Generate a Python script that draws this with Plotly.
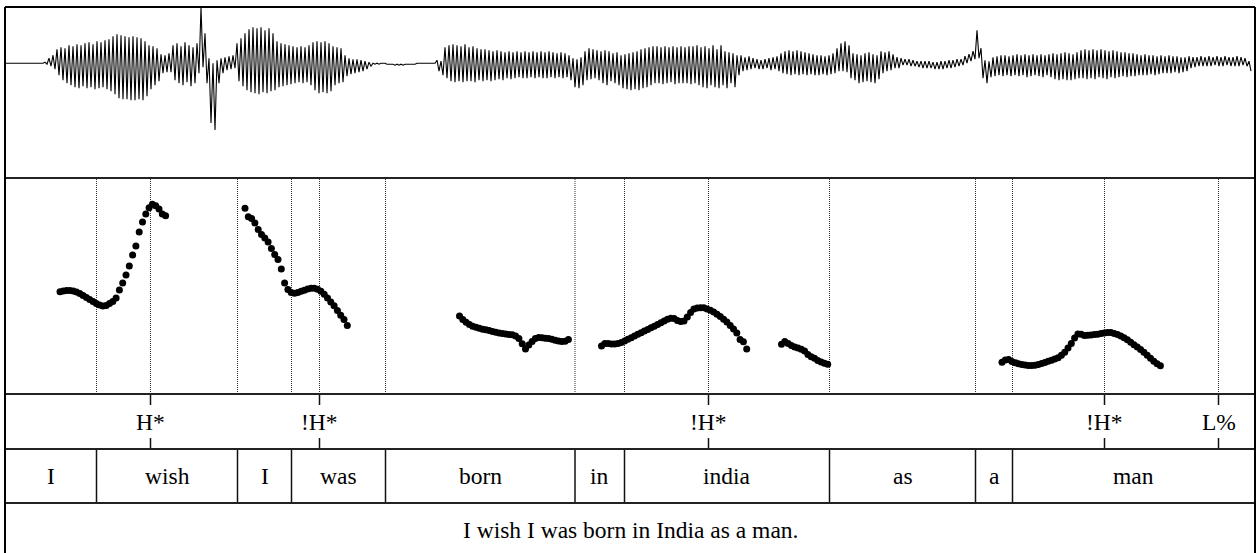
import plotly.graph_objects as go

# ---------------- data ----------------
# Word tier (interval starts in seconds; last interval ends at TOTAL_DUR)
TOTAL_DUR = 2.5
words = ["I", "wish", "I", "was", "born", "in", "india", "as", "a", "man"]
word_starts = [0.0, 0.183, 0.465, 0.573, 0.761, 1.140, 1.239, 1.649, 1.941, 2.015]

# Tone tier (point tier)
tones = ["H*", "!H*", "!H*", "!H*", "L%"]
tone_times = [0.291, 0.629, 1.407, 2.199, 2.427]

sentence = "I wish I was born in India as a man."

# Waveform: per-frame max / min amplitude (frame step 8 ms), arbitrary units
WAVE_FRAME = 0.008
wave_hi = [
    0, 0, 0, 0, 0, 0, 0, 0, 0, 0,
    1, 5, 8, 14, 16, 15, 18, 17, 19, 18,
    20, 21, 19, 22, 21, 23, 24, 27, 29, 28,
    27, 26, 27, 26, 25, 22, 18, 17, 15, 9,
    8, 10, 18, 20, 17, 21, 18, 16, 20, 56,
    30, 5, 0, 3, 5, 6, 7, 8, 20, 25,
    30, 34, 36, 35, 36, 33, 35, 30, 22, 20,
    19, 18, 17, 16, 17, 16, 18, 21, 22, 21,
    22, 20, 17, 16, 15, 8, 5, 4, 4, 3,
    2, 1, 0, 0, 0, 0, -1, -1, -1, -1,
    -1, -1, -1, 0, 0, 0, 0, 0, 3, 2,
    16, 18, 19, 18, 17, 19, 16, 17, 15, 14,
    14, 13, 12, 13, 12, 11, 12, 11, 12, 11,
    12, 11, 12, 11, 12, 11, 12, 11, 10, 11,
    10, 8, 5, 4, 6, 12, 15, 14, 13, 12,
    13, 12, 10, 11, 8, 9, 10, 11, 12, 14,
    15, 16, 17, 17, 16, 17, 16, 17, 16, 17,
    16, 17, 17, 18, 16, 17, 15, 18, 14, 18,
    12, 11, 10, 8, 8, 6, 7, 5, 4, 3,
    4, 5, 6, 7, 10, 12, 13, 12, 13, 12,
    11, 10, 9, 8, 8, 7, 8, 10, 15, 20,
    22, 18, 10, 9, 8, 10, 11, 9, 8, 12,
    11, 12, 9, 6, 5, 4, 4, 3, 2, 2,
    2, 2, 1, 1, 2, 2, 3, 3, 4, 4,
    7, 9, 12, 33, 15, 3, 2, 6, 7, 8,
    8, 7, 8, 9, 8, 9, 8, 9, 8, 9,
    8, 9, 10, 9, 10, 11, 10, 9, 11, 13,
    14, 13, 14, 13, 14, 13, 12, 13, 12, 11,
    11, 10, 10, 9, 8, 9, 8, 8, 7, 8,
    7, 8, 7, 7, 6, 6, 7, 6, 6, 7,
    6, 7, 6, 7, 6, 7, 6, 6, 7, 6, 5, 2,
]
wave_lo = [
    0, 0, 0, 0, 0, 0, 0, 0, 0, 0,
    -1, -3, -6, -12, -17, -20, -22, -24, -25, -23,
    -25, -24, -26, -25, -24, -26, -28, -31, -35, -36,
    -36, -37, -37, -36, -37, -33, -26, -22, -18, -10,
    -9, -9, -17, -20, -22, -19, -23, -20, -10, -4,
    -20, -60, -67, -20, -10, -7, -6, -5, -18, -23,
    -27, -29, -30, -31, -29, -30, -28, -27, -24, -23,
    -22, -21, -20, -19, -20, -19, -22, -27, -30, -29,
    -30, -28, -22, -20, -19, -13, -11, -10, -9, -8,
    -6, -3, -1, -1, 0, -1, -1, -2, -2, -2,
    -1, -1, -1, 0, 0, 0, 0, 0, -8, -12,
    -15, -18, -19, -18, -19, -18, -18, -19, -17, -18,
    -17, -18, -17, -16, -17, -15, -16, -15, -14, -15,
    -15, -14, -15, -14, -15, -15, -14, -15, -14, -15,
    -14, -17, -24, -25, -22, -17, -16, -15, -17, -20,
    -22, -18, -20, -22, -25, -26, -27, -26, -27, -25,
    -24, -22, -20, -20, -21, -20, -19, -21, -20, -20,
    -20, -21, -20, -22, -24, -25, -22, -24, -25, -22,
    -25, -20, -24, -12, -8, -7, -6, -5, -6, -6,
    -5, -7, -6, -8, -10, -11, -12, -11, -12, -11,
    -12, -11, -12, -12, -11, -12, -11, -10, -8, -8,
    -9, -15, -17, -20, -19, -18, -19, -20, -16, -10,
    -8, -7, -5, -5, -2, -2, -3, -3, -4, -5,
    -5, -5, -6, -6, -6, -5, -5, -4, -3, -2,
    0, 2, 4, 5, -15, -20, -14, -13, -12, -13,
    -12, -13, -12, -13, -12, -14, -13, -12, -13, -14,
    -12, -14, -16, -17, -16, -17, -17, -16, -15, -15,
    -16, -15, -16, -14, -15, -16, -14, -15, -14, -13,
    -14, -13, -13, -12, -12, -12, -11, -12, -11, -10,
    -10, -10, -9, -10, -9, -8, -5, -4, -3, -3,
    -3, -3, -2, -3, -3, -2, -3, -3, -3, -2, -3, -8,
]

# Pitch track (Hz), voiced stretches: start time + frame step
PITCH_STEP = 0.0066
pitch_starts = [0.110, 0.480, 0.909, 1.193, 1.553, 1.994]
pitch_seg1 = [181.6, 182.3, 182.8, 182.8, 182.3, 181.3, 179.7, 177.6, 175.5, 173.4,
              171.4, 169.3, 167.7, 166.7, 167.2, 169.3, 171.4, 175.0, 183.3, 190.6,
              199.0, 208.3, 219.8, 229.2, 243.8, 254.2, 262.5, 269.1, 272.6, 271.1,
              267.7, 262.5, 260.7]
pitch_seg2 = [268.4, 259.7, 257.8, 253.1, 246.4, 241.1, 237.5, 233.3, 226.6, 220.3,
              215.1, 205.2, 190.6, 183.9, 180.7, 179.9, 180.7, 182.0, 183.1, 184.4,
              185.1, 185.1, 184.1, 182.0, 178.9, 175.0, 170.8, 166.9, 162.0, 157.1,
              152.6, 146.4]
pitch_seg3 = [156.3, 152.6, 149.7, 147.4, 145.5, 144.5, 143.4, 142.5, 141.9, 141.1,
              140.1, 139.3, 138.5, 137.9, 137.5, 137.1, 136.7, 135.4, 132.7, 127.3,
              121.9, 126.0, 129.7, 132.8, 133.9, 133.5, 133.1, 132.7, 132.0, 131.0,
              130.2, 129.7, 129.9, 131.8]
pitch_seg4 = [125.0, 127.6, 127.6, 127.1, 127.1, 127.6, 128.6, 130.2, 132.0, 133.6,
              135.4, 137.2, 138.9, 140.6, 142.2, 144.0, 145.6, 147.4, 149.2, 151.0,
              152.9, 153.9, 153.6, 151.6, 150.5, 151.0, 155.2, 159.9, 163.5, 164.6,
              164.9, 164.8, 163.5, 162.2, 160.4, 158.0, 155.7, 152.8, 150.0, 146.4,
              142.7, 138.5, 131.8, 129.5, 121.9]
pitch_seg5 = [126.8, 129.7, 127.6, 125.5, 124.0, 122.9, 121.6, 119.8, 116.1, 113.9,
              112.2, 109.9, 108.3, 107.0, 105.9]
pitch_seg6 = [108.0, 110.4, 110.9, 108.9, 107.5, 106.5, 105.7, 105.2, 104.7, 104.6,
              105.0, 105.8, 106.8, 107.9, 109.1, 110.2, 111.5, 112.7, 115.4, 118.5,
              122.9, 127.6, 133.3, 137.5, 137.2, 135.9, 136.1, 136.5, 136.9, 137.3,
              137.9, 138.5, 139.1, 139.0, 138.0, 137.0, 135.4, 133.5, 131.5, 128.9,
              126.3, 124.0, 121.3, 118.4, 115.4, 112.3, 109.2, 106.5, 104.4]
pitch_segments = [pitch_seg1, pitch_seg2, pitch_seg3, pitch_seg4, pitch_seg5, pitch_seg6]

# ---------------- layout constants (pixels) ----------------
W, H = 1257, 553
LEFT, RIGHT = 5, 1255
TOP = 7
WAVE_BOTTOM = 178
PITCH_BOTTOM = 394
TONE_BOTTOM = 449
WORD_BOTTOM = 503
FONT = "Liberation Serif, Times New Roman, serif"
FS = 23.5


def fx(p):
    return p / W


def fy(p):
    return 1 - p / H


# ---------------- traces ----------------
wx, wy = [], []
for i, (hi, lo) in enumerate(zip(wave_hi, wave_lo)):
    t = i * WAVE_FRAME
    wx += [t, t + WAVE_FRAME / 2]
    wy += [hi, lo]

px_, py_ = [], []
for start, seg in zip(pitch_starts, pitch_segments):
    for k, f0 in enumerate(seg):
        px_.append(start + k * PITCH_STEP)
        py_.append(f0)

fig = go.Figure()
fig.add_trace(go.Scatter(x=wx, y=wy, mode="lines", line=dict(color="black", width=1.1),
                         xaxis="x", yaxis="y", hoverinfo="skip"))
fig.add_trace(go.Scatter(x=px_, y=py_, mode="markers",
                         marker=dict(color="black", size=7, line=dict(width=0)),
                         xaxis="x", yaxis="y2"))

# ---------------- shapes ----------------
shapes = []
# pitch-panel dotted lines at every boundary and tone
for t in sorted(word_starts[1:] + tone_times):
    shapes.append(dict(type="line", xref="x", yref="paper", x0=t, x1=t,
                       y0=fy(PITCH_BOTTOM), y1=fy(WAVE_BOTTOM),
                       line=dict(color="#333333", width=1, dash="1px,1px"), layer="below"))
# word boundaries
for t in word_starts[1:]:
    shapes.append(dict(type="line", xref="x", yref="paper", x0=t, x1=t,
                       y0=fy(WORD_BOTTOM), y1=fy(TONE_BOTTOM),
                       line=dict(color="#111111", width=1.5)))
# tone ticks
for t in tone_times:
    shapes.append(dict(type="line", xref="x", yref="paper", x0=t, x1=t,
                       y0=fy(PITCH_BOTTOM + 11), y1=fy(PITCH_BOTTOM),
                       line=dict(color="#111111", width=1.5)))
    shapes.append(dict(type="line", xref="x", yref="paper", x0=t, x1=t,
                       y0=fy(TONE_BOTTOM), y1=fy(TONE_BOTTOM - 11),
                       line=dict(color="#111111", width=1.5)))
# horizontal separators
for yy in [WAVE_BOTTOM, PITCH_BOTTOM, TONE_BOTTOM, WORD_BOTTOM]:
    shapes.append(dict(type="line", xref="paper", yref="paper", x0=fx(LEFT), x1=fx(RIGHT),
                       y0=fy(yy), y1=fy(yy), line=dict(color="#222222", width=1.8)))
# outer frame (bottom edge lies outside the picture)
shapes.append(dict(type="line", xref="paper", yref="paper", x0=fx(LEFT), x1=fx(RIGHT),
                   y0=fy(TOP), y1=fy(TOP), line=dict(color="black", width=2)))
shapes.append(dict(type="line", xref="paper", yref="paper", x0=fx(LEFT), x1=fx(LEFT),
                   y0=0, y1=fy(TOP), line=dict(color="black", width=2)))
shapes.append(dict(type="line", xref="paper", yref="paper", x0=fx(RIGHT), x1=fx(RIGHT),
                   y0=0, y1=fy(TOP), line=dict(color="black", width=2)))

# ---------------- annotations ----------------
ann = []
for t, lab in zip(tone_times, tones):
    ann.append(dict(x=t, y=fy((PITCH_BOTTOM + TONE_BOTTOM) / 2), xref="x", yref="paper",
                    text=lab, showarrow=False, font=dict(family=FONT, size=FS, color="black"),
                    xanchor="center", yanchor="middle"))
word_ends = word_starts[1:] + [TOTAL_DUR]
for s, e, w in zip(word_starts, word_ends, words):
    ann.append(dict(x=(s + e) / 2, y=fy((TONE_BOTTOM + WORD_BOTTOM) / 2), xref="x", yref="paper",
                    text=w, showarrow=False, font=dict(family=FONT, size=FS, color="black"),
                    xanchor="center", yanchor="middle"))
ann.append(dict(x=TOTAL_DUR / 2, y=fy(530), xref="x", yref="paper", text=sentence,
                showarrow=False, font=dict(family=FONT, size=FS, color="black"),
                xanchor="center", yanchor="middle"))

fig.update_layout(
    width=W, height=H,
    margin=dict(l=0, r=0, t=0, b=0, autoexpand=False),
    paper_bgcolor="white", plot_bgcolor="white",
    showlegend=False,
    xaxis=dict(range=[0, TOTAL_DUR], domain=[fx(LEFT), fx(RIGHT)], visible=False,
               anchor="y"),
    yaxis=dict(range=[-115, 56.3], domain=[fy(WAVE_BOTTOM), fy(TOP)], visible=False,
               anchor="x"),
    yaxis2=dict(range=[75, 300], domain=[fy(PITCH_BOTTOM), fy(WAVE_BOTTOM)], visible=False,
                anchor="x"),
    shapes=shapes,
    annotations=ann,
)

fig.write_html("out.html", config={"displayModeBar": False},
               post_script="document.body.style.margin='0px';document.body.style.overflow='hidden';")
